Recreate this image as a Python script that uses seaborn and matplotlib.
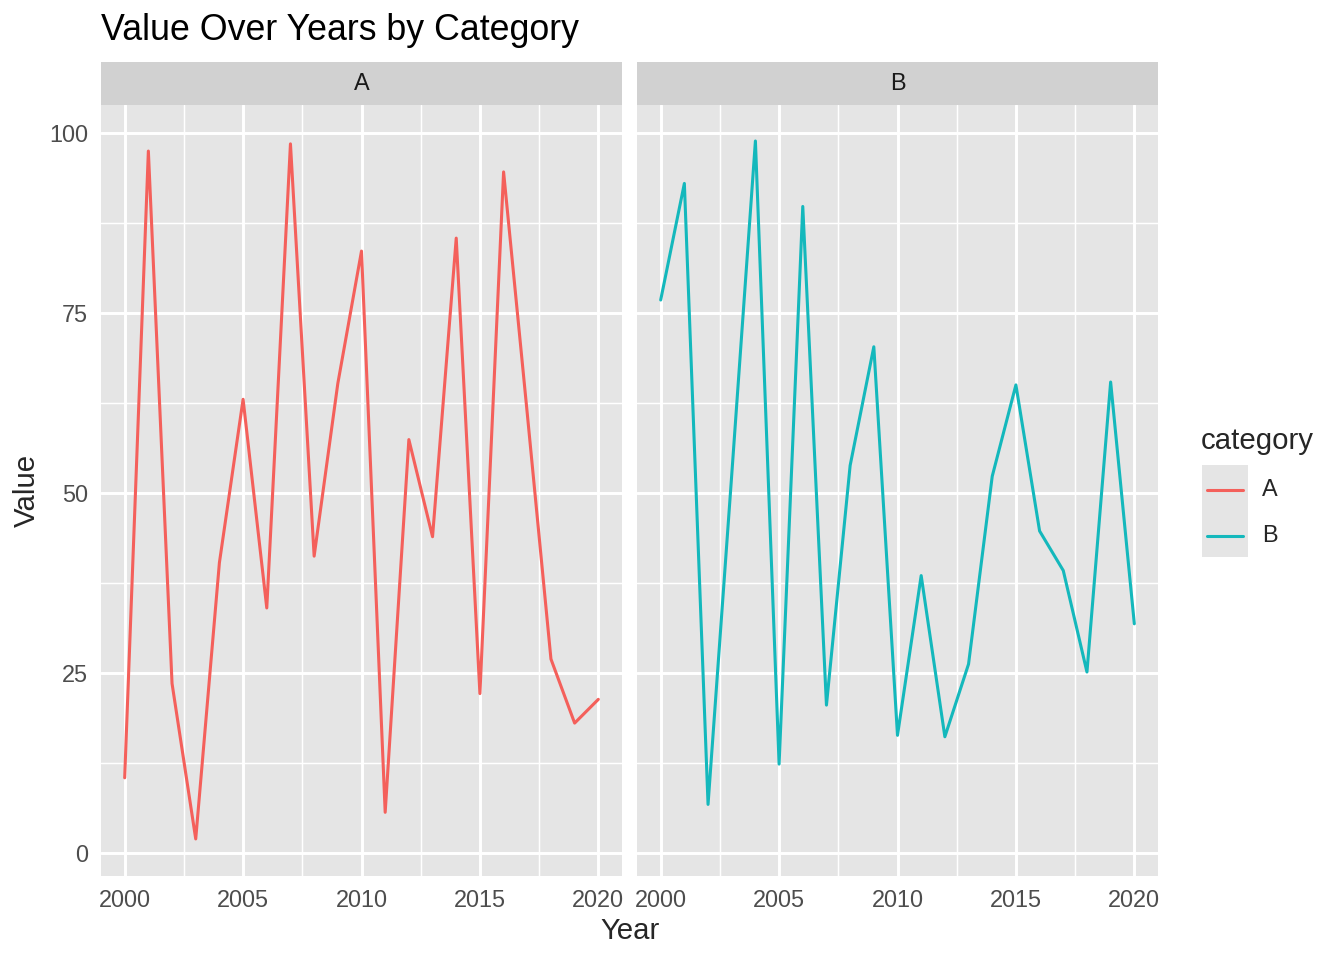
import matplotlib
matplotlib.use("Agg")
import matplotlib.pyplot as plt
import seaborn as sns
import pandas as pd
from matplotlib.patches import Rectangle
from matplotlib.lines import Line2D

# data
years = list(range(2000, 2021))
values_a = [10.4, 97.5, 23.5, 1.9, 40.3, 63.0, 34.0, 98.5, 41.2, 65.2, 83.6,
            5.6, 57.4, 43.9, 85.4, 22.1, 94.6, 61.0, 26.9, 18.0, 21.3]
values_b = [76.8, 93.0, 6.7, 52.5, 98.9, 12.3, 89.8, 20.5, 53.8, 70.3, 16.3,
            38.5, 16.1, 26.2, 52.3, 65.0, 44.7, 39.2, 25.1, 65.4, 31.8]
categories = ["A", "B"]
colors = {"A": "#F4605B", "B": "#14B8BC"}

df = pd.DataFrame({
    "year": years * 2,
    "value": values_a + values_b,
    "category": ["A"] * len(years) + ["B"] * len(years),
})

sns.set_theme(style="darkgrid")
plt.rcParams["font.family"] = ["Liberation Sans", "DejaVu Sans"]

fig = plt.figure(figsize=(7, 5), dpi=192)

W, H = 1344, 960
panels = {"A": 101, "B": 637}
pw = 521
top, bottom = 105, 876
strip_h = 43
lw = 1.15

for cat in categories:
    left = panels[cat]
    ax = fig.add_axes([left / W, 1 - bottom / H, pw / W, (bottom - top) / H])
    ax.set_facecolor("#E5E5E5")
    sns.lineplot(data=df[df["category"] == cat], x="year", y="value",
                 color=colors[cat], linewidth=lw, ax=ax, legend=False)
    ax.set_xlim(1999, 2021)
    ax.set_ylim(-3.25, 103.9)
    ax.set_xticks([2000, 2005, 2010, 2015, 2020])
    ax.set_xticks([2002.5, 2007.5, 2012.5, 2017.5], minor=True)
    ax.set_yticks([0, 25, 50, 75, 100])
    ax.set_yticks([12.5, 37.5, 62.5, 87.5], minor=True)
    ax.grid(which="major", color="white", linewidth=1.1)
    ax.grid(which="minor", color="white", linewidth=0.55)
    for s in ax.spines.values():
        s.set_visible(False)
    ax.set_xlabel("")
    ax.set_ylabel("")
    ax.tick_params(axis="both", which="major", length=2.75, width=0.55,
                   color="#333333", labelcolor="#4D4D4D", labelsize=8.8, pad=2.2)
    ax.tick_params(axis="both", which="minor", length=0)
    if cat == "B":
        ax.tick_params(axis="y", which="major", length=0, labelleft=False)

    # facet strip
    sax = fig.add_axes([left / W, 1 - top / H, pw / W, strip_h / H])
    sax.set_facecolor("#D1D1D1")
    sax.set_xticks([])
    sax.set_yticks([])
    for s in sax.spines.values():
        s.set_visible(False)
    sax.text(0.5, 0.5, cat, ha="center", va="center", fontsize=8.8,
             color="#1A1A1A", transform=sax.transAxes)

fig.text(101 / W, 1 - 30 / H, "Value Over Years by Category", fontsize=13.4,
         ha="left", va="center", color="black")
fig.text(630 / W, 1 - 931 / H, "Year", fontsize=11, ha="center", va="center")
fig.text(27 / W, 1 - 490 / H, "Value", fontsize=11, ha="center", va="center",
         rotation=90)

# legend
fig.text(1201 / W, 1 - 441 / H, "category", fontsize=11, ha="left", va="center")
fig.patches.append(Rectangle((1202 / W, 1 - 557 / H), 46 / W, 92 / H,
                             transform=fig.transFigure, facecolor="#E5E5E5",
                             edgecolor="none", figure=fig))
for i, cat in enumerate(categories):
    yy = 1 - (490 + 46 * i) / H
    fig.lines.append(Line2D([1207 / W, 1243 / W], [yy, yy], color=colors[cat],
                            linewidth=lw, transform=fig.transFigure, figure=fig))
    fig.text(1262 / W, yy, cat, fontsize=8.8, ha="left", va="center")

fig.savefig("out.png", dpi=192)
